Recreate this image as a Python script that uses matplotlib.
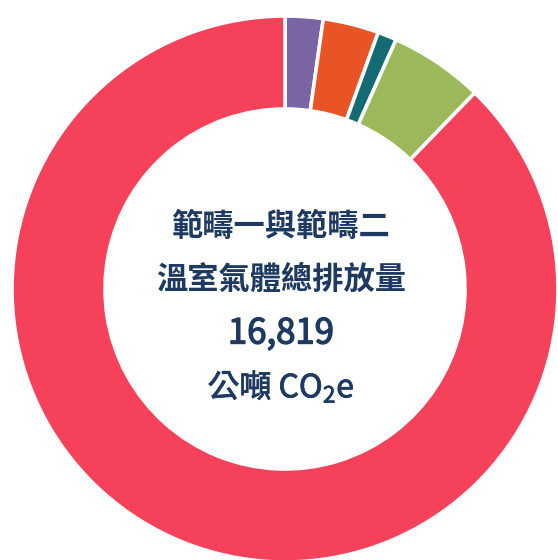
import matplotlib
matplotlib.use('Agg')
import matplotlib.pyplot as plt
import matplotlib.patheffects as pe

plt.rcParams['font.family'] = ['Noto Sans CJK TC', 'DejaVu Sans']
plt.rcParams['mathtext.fontset'] = 'custom'
plt.rcParams['mathtext.rm'] = 'Noto Sans CJK TC'
plt.rcParams['mathtext.it'] = 'Noto Sans CJK TC'

sources = ['紫', '橙', '青', '綠', '紅']
values = [377, 556, 189, 936, 14761]
colors = ['#7A64A3', '#E85426', '#146B73', '#9BB95A', '#F6415A']

center_lines = ['範疇一與範疇二', '溫室氣體總排放量', '16,819', r'公噸 CO$\mathrm{_2}$e']
text_color = '#1F3A60'

fig = plt.figure(figsize=(5.58, 5.60), dpi=100)
ax = fig.add_axes([0, 0, 1, 1])

ax.pie(values, colors=colors, startangle=90, counterclock=False,
       radius=273, center=(285, 271),
       wedgeprops=dict(width=93, edgecolor='white', linewidth=2.6))

ax.set_xlim(0, 558)
ax.set_ylim(0, 560)
ax.set_aspect('equal')
ax.axis('off')

ypos = [333, 280, 226, 174]
weights = ['bold', 'bold', 'normal', 'normal']
sizes = [22.5, 22.5, 25, 23]
strokes = [0, 0, 1.0, 0.6]   # thicken the lighter lines a bit
for txt, y, w, s, st in zip(center_lines, ypos, weights, sizes, strokes):
    t = ax.text(281, y, txt, ha='center', va='center', fontsize=s,
                fontweight=w, color=text_color)
    if st:
        t.set_path_effects([pe.withStroke(linewidth=st, foreground=text_color)])

fig.savefig('out.png', dpi=100)
